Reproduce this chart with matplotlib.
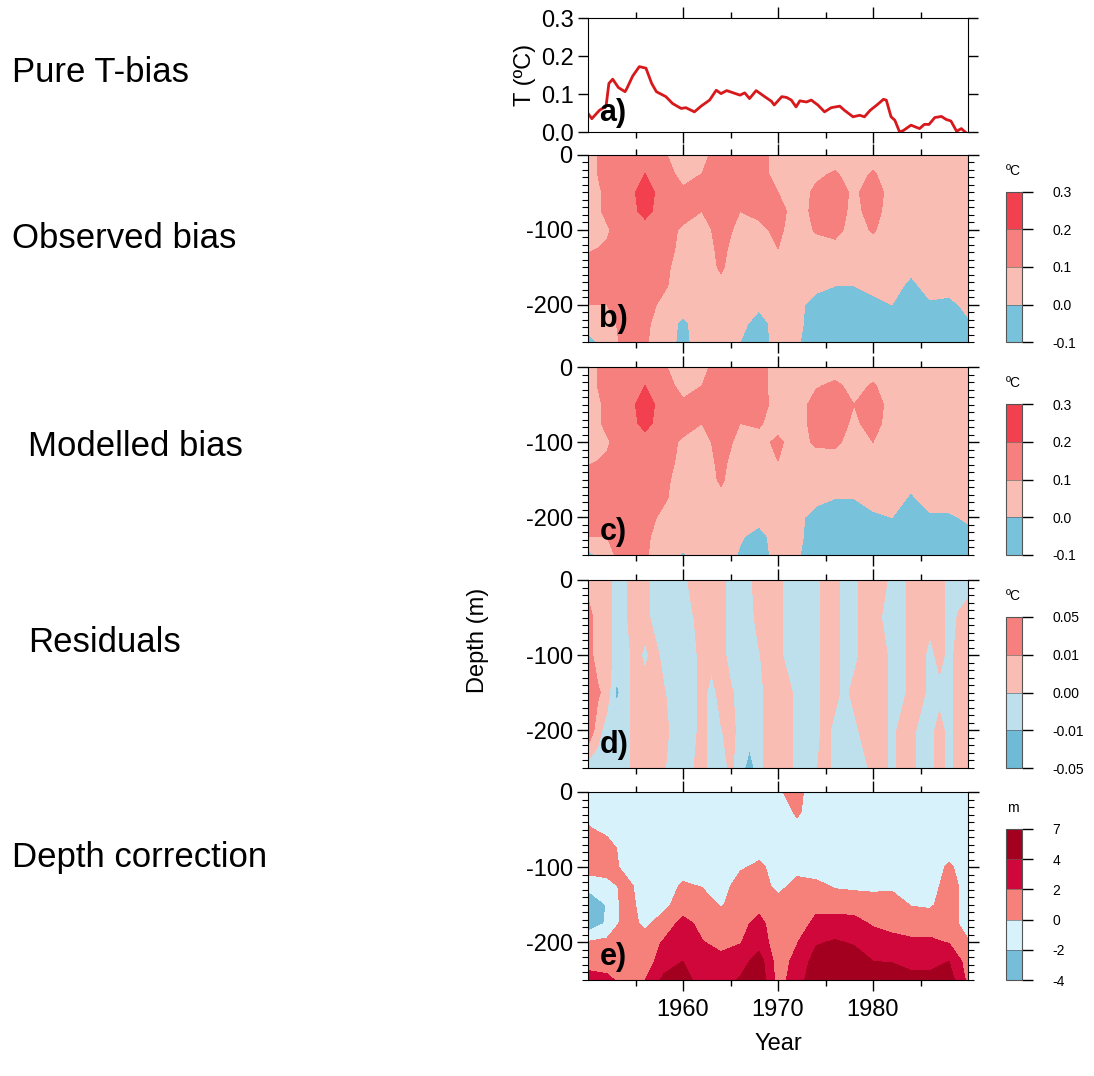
import numpy as np
import matplotlib
matplotlib.use('Agg')
import matplotlib.pyplot as plt
from matplotlib.colors import ListedColormap, BoundaryNorm
import matplotlib.cm as cm
from matplotlib.ticker import MultipleLocator

plt.rcParams['font.family'] = ['Liberation Sans', 'DejaVu Sans']
plt.rcParams['axes.unicode_minus'] = False

# ---- data ----
# a) pure T-bias time series
t_years = [1950.0, 1950.4, 1951.2, 1951.9, 1952.2, 1952.6, 1953.2, 1953.9, 1954.1, 1954.7,
           1955.4, 1956.1, 1956.7, 1957.2, 1958.2, 1958.9, 1959.8, 1960.3, 1961.2, 1961.9,
           1962.8, 1963.5, 1964.0, 1964.6, 1965.3, 1966.0, 1966.5, 1967.0, 1967.7, 1968.6,
           1969.3, 1969.6, 1970.4, 1970.9, 1971.4, 1971.9, 1972.3, 1973.0, 1973.5, 1974.2,
           1974.9, 1975.6, 1976.5, 1977.0, 1977.9, 1978.6, 1979.1, 1979.7, 1980.5, 1981.1,
           1981.4, 1981.9, 1982.3, 1982.8, 1983.2, 1984.0, 1984.9, 1985.4, 1985.9, 1986.5,
           1987.2, 1987.7, 1988.2, 1988.8, 1989.3, 1989.7]
t_bias = [0.049, 0.035, 0.057, 0.068, 0.128, 0.139, 0.117, 0.106, 0.115, 0.147,
          0.172, 0.168, 0.128, 0.106, 0.093, 0.075, 0.062, 0.064, 0.053, 0.068,
          0.084, 0.110, 0.101, 0.109, 0.103, 0.097, 0.103, 0.088, 0.109, 0.093,
          0.081, 0.071, 0.093, 0.091, 0.084, 0.066, 0.082, 0.079, 0.084, 0.071,
          0.053, 0.064, 0.068, 0.057, 0.040, 0.044, 0.040, 0.057, 0.073, 0.086,
          0.084, 0.040, 0.031, 0.000, 0.004, 0.018, 0.009, 0.020, 0.020, 0.038,
          0.041, 0.033, 0.029, 0.002, 0.009, 0.000]

grid_years = list(range(1950, 1991, 2))
grid_depth = [0, -25, -50, -75, -100, -125, -150, -175, -200, -225, -250]

# b) observed bias (rows = depth, cols = years)
observed_bias = [
    [.05, .15, .15, .15, .11, .05, .07, .15, .15, .14, .06, .05, .05, .05, .05, .05, .05, .05, .05, .05, .05],
    [.05, .15, .15, .20, .15, .06, .10, .15, .15, .14, .06, .05, .08, .11, .06, .11, .05, .05, .05, .05, .05],
    [.05, .12, .15, .25, .15, .12, .15, .15, .15, .15, .10, .05, .12, .15, .08, .15, .06, .05, .05, .05, .05],
    [.05, .12, .15, .23, .15, .15, .10, .15, .10, .12, .14, .05, .13, .15, .07, .14, .05, .05, .05, .05, .05],
    [.05, .09, .15, .16, .15, .08, .07, .13, .08, .08, .12, .05, .11, .13, .06, .11, .05, .05, .05, .05, .05],
    [.09, .11, .15, .15, .14, .07, .06, .12, .06, .06, .10, .05, .06, .07, .05, .06, .05, .05, .05, .05, .05],
    [.13, .15, .15, .15, .12, .06, .06, .11, .05, .05, .06, .05, .05, .05, .05, .05, .04, .02, .05, .05, .05],
    [.14, .15, .15, .14, .11, .06, .05, .08, .05, .05, .05, .04, .02, .00, .00, .02, .03, -.02, .03, .03, .05],
    [.10, .10, .15, .13, .08, .05, .05, .05, .05, .02, .04, .02, -.03, -.04, -.04, -.02, .00, -.03, -.01, -.02, .02],
    [.05, .05, .15, .12, .05, -.02, .05, .05, .03, -.04, .04, .02, -.04, -.05, -.05, -.05, -.04, -.04, -.04, -.04, -.01],
    [-.04, .05, .13, .11, .05, -.03, .05, .05, .00, -.05, .04, .01, -.05, -.05, -.05, -.05, -.05, -.05, -.05, -.05, -.05],
]

# c) modelled bias
modelled_bias = [
    [.05, .15, .15, .15, .11, .05, .07, .15, .15, .14, .05, .05, .05, .05, .05, .05, .05, .05, .05, .05, .05],
    [.05, .15, .15, .20, .15, .06, .10, .15, .15, .14, .05, .05, .09, .12, .07, .11, .05, .05, .05, .05, .05],
    [.05, .12, .15, .25, .15, .12, .15, .15, .15, .14, .06, .05, .14, .15, .10, .15, .06, .05, .05, .05, .05],
    [.05, .12, .15, .23, .15, .15, .10, .15, .10, .11, .06, .05, .14, .15, .08, .14, .05, .05, .05, .05, .05],
    [.05, .09, .15, .16, .15, .08, .07, .13, .08, .07, .12, .05, .12, .12, .06, .10, .05, .05, .05, .05, .05],
    [.09, .11, .15, .15, .14, .07, .06, .12, .06, .06, .10, .05, .05, .06, .05, .05, .05, .05, .05, .05, .05],
    [.13, .15, .15, .15, .12, .06, .06, .11, .05, .05, .05, .05, .05, .05, .05, .05, .04, .02, .05, .05, .05],
    [.14, .15, .15, .14, .11, .06, .05, .08, .05, .05, .05, .04, .02, .00, .00, .02, .03, -.01, .03, .03, .05],
    [.12, .12, .15, .13, .08, .05, .05, .05, .05, .03, .04, .02, -.03, -.04, -.04, -.01, .00, -.03, -.01, -.01, .01],
    [.10, .10, .15, .12, .05, .05, .05, .05, .01, -.03, .04, .02, -.04, -.05, -.05, -.05, -.04, -.04, -.04, -.04, -.02],
    [-.04, .08, .13, .11, .05, -.01, .05, .05, -.01, -.05, .04, .01, -.05, -.05, -.05, -.05, -.05, -.05, -.05, -.05, -.05],
]

# d) residuals, yearly columns 1950..1990
res_years = list(range(1950, 1991))
res_depth = [0, -50, -100, -150, -200, -250]
residuals = [
    [.005, .005, .005, -.005, -.001, .005, .005, -.005, -.005, -.005, -.005, .005, .005, .005, .005, -.005, -.005, -.002, .005, .005, .005,
     -.005, -.005, -.005, -.005, .005, .005, -.005, -.005, .005, .005, .005, -.005, -.005, .005, .005, .005, .005, -.005, -.005, -.005],
    [.015, .005, .005, -.005, -.001, .005, .005, -.005, -.005, -.005, -.005, -.001, .005, .005, .005, -.005, -.005, -.005, .005, .005, .005,
     -.005, -.005, -.005, -.005, .005, .005, -.005, -.005, .005, .005, -.001, -.005, -.005, .005, .005, .005, .005, -.005, .001, .005],
    [.015, .005, .005, -.005, -.005, .005, -.003, .005, -.005, -.005, -.005, -.005, .005, .005, .005, -.005, -.005, -.005, -.001, .005, .005,
     -.005, -.005, -.005, -.005, .005, .005, -.005, -.005, .005, .005, .005, -.005, -.005, .005, .005, -.005, .005, -.005, .005, .005],
    [.030, .012, .005, -.012, -.005, .005, .005, .005, .001, -.005, -.005, -.005, .005, -.005, .005, .002, -.005, -.005, -.005, .005, .005,
     .005, -.005, -.005, -.005, .005, .005, -.005, .005, .005, .005, .005, -.005, -.005, .005, .005, -.005, -.005, -.005, .005, .005],
    [.020, .004, -.005, -.005, -.005, .005, .005, .005, .005, -.005, -.005, -.005, .005, -.005, -.001, .005, -.005, -.005, -.005, .005, .005,
     .005, -.005, -.005, -.005, .005, -.005, -.005, -.005, .005, .005, .005, -.005, .005, .005, -.005, -.005, .005, -.005, .005, .005],
    [-.005, -.005, -.005, -.005, -.005, .005, .005, .005, .001, -.005, -.005, -.001, .005, -.005, -.005, .002, -.005, -.015, -.005, .005, .005,
     .005, -.005, -.005, -.001, .005, -.005, -.005, -.005, -.005, .005, .005, -.005, .005, .005, -.005, -.005, .005, -.005, .005, .005],
]

# e) depth correction, one list per year (values from surface to -250 m)
depth_corr_by_year = [
    [-1, -1, 0.3, 1, 1, -1.5, -3.5, -3.5, 0.2, 1, 3],
    [-1, -1, -0.6, 1, 1, -0.8, -1.9, -1.7, 0.5, 1, 2.5],
    [-1, -1, -1, -1, -0.6, 0.6, 1, 1, 1, 1, 1.2],
    [-1, -1, -1, -1, -1, -1, -1, -0.5, 1, 1, 2],
    [-1, -1, -1, -1, -1, -1, -0.5, 1, 2.2, 3, 4.5],
    [-1, -1, -1, -1, -1, 0.3, 1, 2.6, 3, 4, 5],
    [-1, -1, -1, -1, -1, -0.1, 1, 1.5, 2.1, 3, 3],
    [-1, -1, -1, -1, -1, -1, -0.2, 1, 1.5, 2.5, 3],
    [-1, -1, -1, -1, -0.3, 1, 1, 1.5, 1.9, 3, 4.2],
    [-1, -1, -1, -1, 0.5, 1, 1.5, 2.5, 3, 5, 5.5],
    [-0.2, -1, -1, -1, -1, -0.6, 0.8, 1, 1, 1, 1.2],
    [0.5, 0.3, -0.5, -1, -0.6, 0.6, 1, 1, 1.9, 2.6, 3],
    [-1, -1, -1, -1, -1, 0.5, 1.5, 2.5, 3.8, 4.8, 5.5],
    [-1, -1, -1, -1, -1, -0.2, 1.2, 2.8, 4.2, 5.5, 5.5],
    [-1, -1, -1, -1, -1, -0.4, 1.2, 2.6, 3.8, 5, 5.5],
    [-1, -1, -1, -1, -1, -0.5, 1, 1.8, 3, 4, 5],
    [-1, -1, -1, -1, -1, -0.4, 1, 1.6, 2.4, 3.9, 5],
    [-1, -1, -1, -1, -1, -1, -0.1, 1.2, 2.3, 3, 5],
    [-1, -1, -1, -1, -1, -1, -0.3, 1.2, 2.3, 3, 5],
    [-1, -1, -1, -1, 0.3, 1, 1, 1, 1.9, 4, 5],
    [-1, -1, -1, -1, -1, -1, -1, -1, 0.2, 1, 1.5],
]

bias_levels = [-0.1, 0.0, 0.1, 0.2, 0.3]
bias_labels = ['-0.1', '0.0', '0.1', '0.2', '0.3']
bias_colors = ['#78c3db', '#f9bdb3', '#f6807e', '#f2404f']
res_levels = [-0.05, -0.01, 0.0, 0.01, 0.05]
res_labels = ['-0.05', '-0.01', '0.00', '0.01', '0.05']
res_colors = ['#6fbad7', '#bde0ec', '#f9bdb3', '#f6807e']
dc_levels = [-4, -2, 0, 2, 4, 7]
dc_labels = ['-4', '-2', '0', '2', '4', '7']
dc_colors = ['#75bdd9', '#d7f2fb', '#f6807a', '#d0073a', '#a30020']

W, H = 1094, 1076
fig = plt.figure(figsize=(W / 100, H / 100), dpi=100)


def axes_px(left, top, right, bottom):
    return fig.add_axes([left / W, 1 - bottom / H, (right - left) / W, (bottom - top) / H])


def year_ticks(ax, labels):
    ax.set_xlim(1950, 1990)
    ax.set_xticks([1960, 1970, 1980])
    ax.set_xticks([1955, 1965, 1975, 1985], minor=True)
    ax.tick_params(axis='x', which='major', direction='out', length=8, width=1,
                   top=True, bottom=True, labelbottom=labels, labelsize=17, pad=6)
    ax.tick_params(axis='x', which='minor', direction='out', length=4, width=1,
                   top=True, bottom=True)


# panel a
ax_a = axes_px(588, 18, 968, 132)
ax_a.plot(t_years, t_bias, color='#d7191c', lw=2)
ax_a.set_ylim(0, 0.3)
ax_a.set_yticks([0.0, 0.1, 0.2, 0.3])
ax_a.set_yticklabels(['0.0', '0.1', '0.2', '0.3'])
ax_a.tick_params(axis='y', direction='out', length=7, width=1, left=True, right=True,
                 labelsize=17, pad=3)
year_ticks(ax_a, False)
ax_a.set_ylabel('T (\u00baC)', fontsize=17, labelpad=4)
ax_a.text(0.03, 0.1, 'a)', transform=ax_a.transAxes, fontsize=22, fontweight='bold')


def contour_panel(top, bottom, xs, ys, z, levels, colors, ticklabels, unit, letter, last=False):
    ax = axes_px(588, top, 968, bottom)
    cmap = ListedColormap(colors)
    norm = BoundaryNorm(levels, cmap.N)
    ax.contourf(xs, ys, np.array(z), levels=levels, colors=colors)
    ax.set_ylim(-250, 0)
    ax.set_yticks([0, -100, -200])
    ax.set_yticklabels(['0', '-100', '-200'])
    ax.yaxis.set_minor_locator(MultipleLocator(10))
    ax.tick_params(axis='y', which='major', direction='out', length=8, width=1,
                   left=True, right=True, labelsize=17, pad=3)
    ax.tick_params(axis='y', which='minor', direction='out', length=4, width=0.8,
                   left=True, right=True)
    year_ticks(ax, last)
    ax.text(0.03, 0.08, letter, transform=ax.transAxes, fontsize=22, fontweight='bold')
    cax = axes_px(1006, top + 37, 1022, bottom)
    sm = cm.ScalarMappable(norm=norm, cmap=cmap)
    cb = fig.colorbar(sm, cax=cax, ticks=levels, spacing='uniform', drawedges=True)
    cb.ax.set_yticklabels(ticklabels)
    cb.ax.tick_params(direction='out', length=8, width=1, labelsize=10, pad=14)
    cb.outline.set_edgecolor('#555555')
    cb.dividers.set_color('#555555')
    fig.text(1013 / W, 1 - (top + 16) / H, unit, fontsize=10, ha='center', va='center')
    return ax


contour_panel(155, 342, grid_years, grid_depth, observed_bias, bias_levels, bias_colors,
              bias_labels, '\u00baC', 'b)')
contour_panel(367, 555, grid_years, grid_depth, modelled_bias, bias_levels, bias_colors,
              bias_labels, '\u00baC', 'c)')
contour_panel(580, 768, res_years, res_depth, residuals, res_levels, res_colors,
              res_labels, '\u00baC', 'd)')
ax_e = contour_panel(792, 980, grid_years, grid_depth, np.array(depth_corr_by_year).T,
                     dc_levels, dc_colors, dc_labels, 'm', 'e)', last=True)
ax_e.set_xlabel('Year', fontsize=17, labelpad=8)

fig.text(478 / W, 1 - 640 / H, 'Depth (m)', fontsize=17, rotation=90, ha='center', va='center')

side = [('Pure T-bias', 12, 72), ('Observed bias', 12, 238), ('Modelled bias', 28, 447),
        ('Residuals', 28, 643), ('Depth correction', 12, 857)]
for txt, x, y in side:
    fig.text(x / W, 1 - y / H, txt, fontsize=25, ha='left', va='center')

fig.savefig('out.png', dpi=100)
